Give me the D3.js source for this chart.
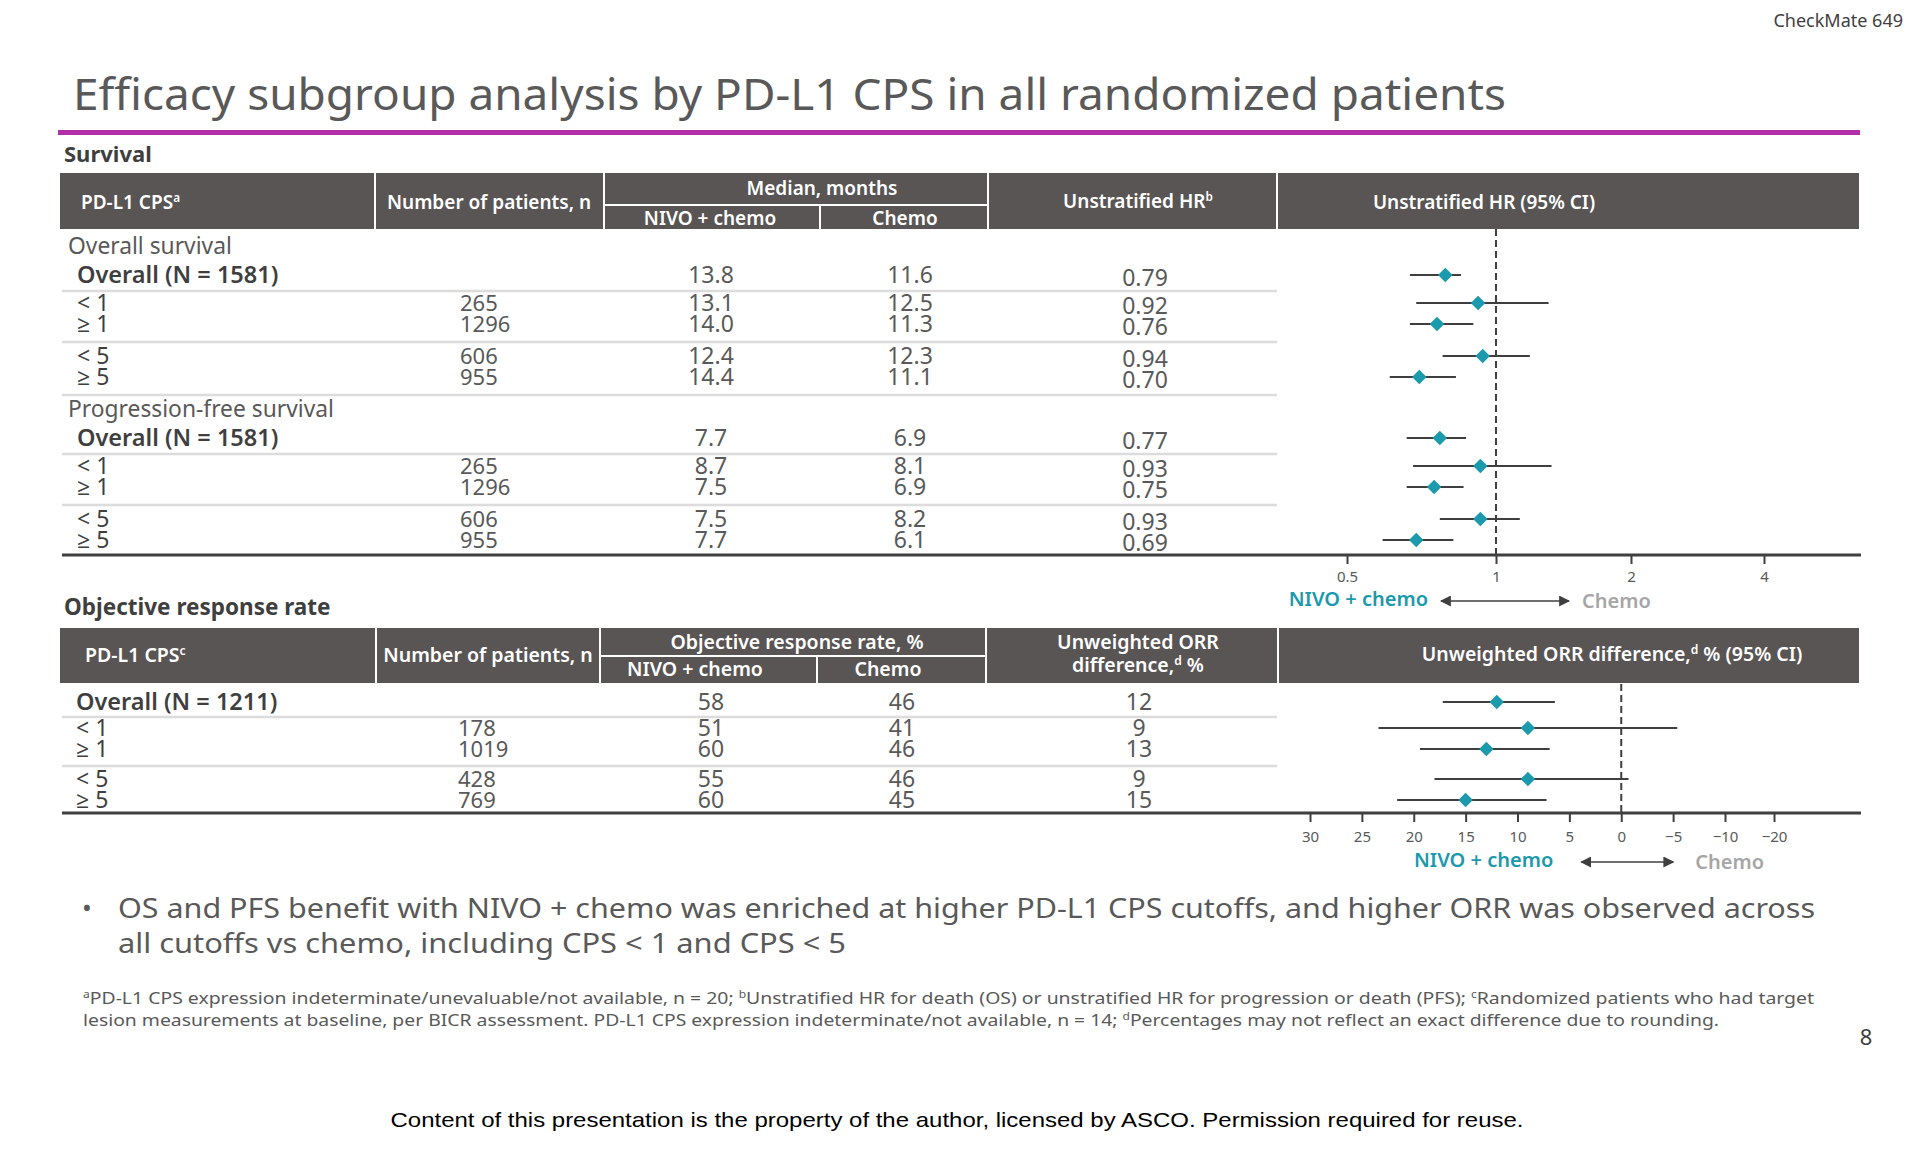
<!DOCTYPE html>
<html><head><meta charset="utf-8">
<script src="https://cdn.jsdelivr.net/npm/d3@7"></script>
<style>
html,body{margin:0;padding:0;background:#fff;}
svg{display:block;font-family:"Noto Sans","Open Sans",sans-serif;}
</style></head><body>
<svg id="c" width="1920" height="1152"></svg>
<script>
// ---------------- DATA ----------------
const subgroupLabels = ["< 1", "≥ 1", "< 5", "≥ 5"];
const osOverallLabel = "Overall (N = 1581)";
const pfsOverallLabel = "Overall (N = 1581)";
const orrOverallLabel = "Overall (N = 1211)";

const survN = ["", "265", "1296", "606", "955"];
const osNivo = ["13.8", "13.1", "14.0", "12.4", "14.4"];
const osChemo = ["11.6", "12.5", "11.3", "12.3", "11.1"];
const osHR = [0.79, 0.92, 0.76, 0.94, 0.70];
const osLower = [0.67, 0.69, 0.67, 0.78, 0.61];
const osUpper = [0.85, 1.31, 0.90, 1.19, 0.83];

const pfsNivo = ["7.7", "8.7", "7.5", "7.5", "7.7"];
const pfsChemo = ["6.9", "8.1", "6.9", "8.2", "6.1"];
const pfsHR = [0.77, 0.93, 0.75, 0.93, 0.69];
const pfsLower = [0.66, 0.68, 0.66, 0.77, 0.59];
const pfsUpper = [0.87, 1.33, 0.86, 1.13, 0.82];

const orrN = ["", "178", "1019", "428", "769"];
const orrNivo = [58, 51, 60, 55, 60];
const orrChemo = [46, 41, 46, 46, 45];
const orrDiff = [12, 9, 13, 9, 15];
const orrLower = [6.4, -5.4, 6.9, -0.7, 7.2];
const orrUpper = [17.2, 23.4, 19.4, 18.0, 21.6];

const hrTicks = [0.5, 1, 2, 4];
const orrTicks = [30, 25, 20, 15, 10, 5, 0, -5, -10, -20];

// ---------------- STYLE ----------------
const HEAD = "#5a5555", TEAL = "#1b99ad", TXT = "#595959", DARK = "#3f3f3f", PURPLE = "#b22fa9";
const svg = d3.select("#c");

function rich(g, x, yc, parts, o) {
  const size = o.size || 18;
  const t = g.append("text").attr("x", x).attr("y", yc + size * 0.36)
    .attr("text-anchor", o.anchor || "start").attr("font-size", size)
    .attr("font-weight", o.weight || 400).attr("fill", o.fill || TXT);
  if (o.family) t.attr("font-family", o.family);
  if (o.len) t.attr("textLength", o.len).attr("lengthAdjust", "spacingAndGlyphs");
  const sh = size * 0.38;
  let pending = 0;
  parts.forEach(p => {
    const s = t.append("tspan");
    if (typeof p === "string") { if (pending) s.attr("dy", pending); pending = 0; s.text(p); }
    else { s.attr("dy", -sh + pending).attr("font-size", size * 0.62).text(p.sup); pending = sh; }
  });
  return t;
}

// ---------------- TOP ----------------
rich(svg, 1903, 21, ["CheckMate 649"], {anchor: "end", size: 18, fill: DARK});
rich(svg, 73, 94, ["Efficacy subgroup analysis by PD-L1 CPS in all randomized patients"], {size: 44, fill: TXT, len: 1433});
svg.append("rect").attr("x", 58).attr("y", 130).attr("width", 1802).attr("height", 5).attr("fill", PURPLE);

rich(svg, 64, 154, ["Survival"], {size: 22, weight: 700, fill: DARK});
rich(svg, 64, 607, ["Objective response rate"], {size: 22.5, weight: 700, fill: DARK});

// ---------------- HEADERS ----------------
function header(top, bot, subY, cols, sub) {
  const g = svg.append("g");
  g.append("rect").attr("x", cols[0]).attr("y", top).attr("width", cols[cols.length - 1] - cols[0]).attr("height", bot - top).attr("fill", HEAD);
  cols.slice(1, -1).forEach(x => g.append("line").attr("x1", x).attr("x2", x).attr("y1", top).attr("y2", bot).attr("stroke", "#fff").attr("stroke-width", 2));
  g.append("line").attr("x1", cols[2]).attr("x2", cols[3]).attr("y1", subY).attr("y2", subY).attr("stroke", "#fff").attr("stroke-width", 2);
  g.append("line").attr("x1", sub).attr("x2", sub).attr("y1", subY).attr("y2", bot).attr("stroke", "#fff").attr("stroke-width", 2);
  return g;
}
const hs = header(173, 229, 205, [60, 375, 604, 988, 1277, 1859], 820);
const ho = {size: 19, weight: 600, fill: "#fff"};
rich(hs, 81, 202, ["PD-L1 CPS", {sup: "a"}], ho);
rich(hs, 489, 202, ["Number of patients, n"], {...ho, anchor: "middle"});
rich(hs, 822, 188, ["Median, months"], {...ho, anchor: "middle"});
rich(hs, 710, 218, ["NIVO + chemo"], {...ho, anchor: "middle"});
rich(hs, 905, 218, ["Chemo"], {...ho, anchor: "middle"});
rich(hs, 1138, 201, ["Unstratified HR", {sup: "b"}], {...ho, anchor: "middle"});
rich(hs, 1484, 202, ["Unstratified HR (95% CI)"], {...ho, anchor: "middle"});

const hr = header(628, 683, 656, [60, 376, 600, 986, 1278, 1859], 817);
const ho2 = {...ho, size: 19.5};
rich(hr, 85, 655, ["PD-L1 CPS", {sup: "c"}], ho2);
rich(hr, 488, 655, ["Number of patients, n"], {...ho2, anchor: "middle"});
rich(hr, 797, 642, ["Objective response rate, %"], {...ho2, anchor: "middle"});
rich(hr, 695, 669, ["NIVO + chemo"], {...ho2, anchor: "middle"});
rich(hr, 888, 669, ["Chemo"], {...ho2, anchor: "middle"});
rich(hr, 1138, 642, ["Unweighted ORR"], {...ho2, anchor: "middle"});
rich(hr, 1138, 665, ["difference,", {sup: "d"}, " %"], {...ho2, anchor: "middle"});
rich(hr, 1612, 654, ["Unweighted ORR difference,", {sup: "d"}, " % (95% CI)"], {...ho2, anchor: "middle"});

// ---------------- ROWS ----------------
const kindOf = l => l.startsWith("<") ? "lt" : l.startsWith("≥") ? "ge" : "overall";
function buildRows(prefix, overall, n, nivo, chemo, est, lo, hi) {
  return [overall, ...subgroupLabels].map((l, i) => ({
    id: prefix + i, label: l, kind: kindOf(l), n: n[i], nivo: nivo[i], chemo: chemo[i], est: est[i], lo: lo[i], hi: hi[i]
  }));
}
const survRows = [
  {id: "osH", label: "Overall survival", kind: "header"},
  ...buildRows("os", osOverallLabel, survN, osNivo, osChemo, osHR, osLower, osUpper),
  {id: "pfsH", label: "Progression-free survival", kind: "header"},
  ...buildRows("pfs", pfsOverallLabel, survN, pfsNivo, pfsChemo, pfsHR, pfsLower, pfsUpper)
];
const orrRows = buildRows("orr", orrOverallLabel, orrN, orrNivo, orrChemo, orrDiff, orrLower, orrUpper);

function positions(rows, start, gaps) {
  let y = start;
  return rows.map((r, i) => { if (i > 0) y += gaps[rows[i - 1].kind]; return y; });
}
const survY = d3.scaleOrdinal().domain(survRows.map(d => d.id))
  .range(positions(survRows, 246, {header: 29, overall: 28, lt: 21, ge: 32}));
const orrY = d3.scaleOrdinal().domain(orrRows.map(d => d.id))
  .range(positions(orrRows, 702, {overall: 26, lt: 21, ge: 30}));

function drawTable(rows, yS, cols, bottomY) {
  const g = svg.append("g");
  rows.forEach((r, i) => {
    if (i < rows.length - 1 && (r.kind === "overall" || r.kind === "ge")) {
      const y = (yS(r.id) + yS(rows[i + 1].id)) / 2 + 2;
      g.append("line").attr("x1", 62).attr("x2", 1277).attr("y1", y).attr("y2", y).attr("stroke", "#dcdcdc").attr("stroke-width", 2.5);
    }
  });
  g.append("line").attr("x1", 62).attr("x2", 1861).attr("y1", bottomY).attr("y2", bottomY).attr("stroke", DARK).attr("stroke-width", 3);
  rows.forEach(r => {
    const y = yS(r.id);
    if (r.kind === "header") { rich(g, 68, y, [r.label], {size: 22.8, fill: TXT}); return; }
    if (r.kind === "overall") rich(g, cols.label, y, [r.label], {size: 23.5, weight: 600, fill: DARK});
    else rich(g, cols.label, y, [r.label], {size: 23, weight: 400, fill: DARK});
    if (r.n) rich(g, cols.n, y, [r.n], {size: 22, fill: TXT});
    rich(g, cols.nivo, y, [String(r.nivo)], {size: 23, anchor: "middle"});
    rich(g, cols.chemo, y, [String(r.chemo)], {size: 23, anchor: "middle"});
    rich(g, cols.est, y + cols.estDy, [cols.fmt(r.est)], {size: 23, anchor: "middle"});
  });
}
drawTable(survRows, survY, {label: 77, n: 460, nivo: 711, chemo: 910, est: 1145, estDy: 3, fmt: d3.format(".2f")}, 555);
drawTable(orrRows, orrY, {label: 76, n: 458, nivo: 711, chemo: 902, est: 1139, estDy: 0, fmt: d3.format("d")}, 813);

// ---------------- FOREST PLOTS ----------------
const hrX = d3.scaleLog().domain([0.5, 1, 2, 4]).range([1347, 1496, 1631, 1764]);
const orrX = d3.scaleLinear().domain([30, -10, -20]).range([1310, 1725, 1774]);
const diamond = d3.symbol().type(d3.symbolSquare).size(105);

svg.append("defs").html(
  '<marker id="ah" viewBox="0 0 10 10" refX="9" refY="5" markerWidth="11" markerHeight="11" markerUnits="userSpaceOnUse" orient="auto-start-reverse"><path d="M0,0L10,5L0,10z" fill="#3f3f3f"/></marker>');

function forest(rows, yS, x, nullV, top, axisY, ticks, fmt, pad) {
  const g = svg.append("g");
  g.append("line").attr("x1", x(nullV)).attr("x2", x(nullV)).attr("y1", top).attr("y2", axisY)
    .attr("stroke", DARK).attr("stroke-width", 2).attr("stroke-dasharray", "7,4");
  const data = rows.filter(r => r.kind !== "header");
  g.selectAll("line.ci").data(data).join("line").attr("class", "ci")
    .attr("x1", d => x(d.lo)).attr("x2", d => x(d.hi)).attr("y1", d => yS(d.id)).attr("y2", d => yS(d.id))
    .attr("stroke", DARK).attr("stroke-width", 2);
  g.selectAll("path.pt").data(data).join("path").attr("class", "pt")
    .attr("d", diamond).attr("fill", TEAL)
    .attr("transform", d => `translate(${x(d.est)},${yS(d.id)}) rotate(45)`);
  const ax = g.append("g").attr("transform", `translate(0,${axisY})`)
    .call(d3.axisBottom(x).tickValues(ticks).tickSize(9).tickPadding(pad).tickFormat(fmt));
  ax.select(".domain").remove();
  ax.selectAll(".tick line").attr("stroke", DARK).attr("stroke-width", 2);
  ax.selectAll(".tick text").attr("fill", TXT).attr("font-size", 15).attr("font-family", '"Noto Sans",sans-serif');
  return {g, c: x(nullV)};
}
const f1 = forest(survRows, survY, hrX, 1, 229, 555, hrTicks, d3.format(""), 7);
const f2 = forest(orrRows, orrY, orrX, 0, 684, 813, orrTicks, d3.format(""), 9);

function legend(g, c, y, half, off, gapL, gapR) {
  g.append("line").attr("x1", c + off - half).attr("x2", c + off + half).attr("y1", y).attr("y2", y)
    .attr("stroke", DARK).attr("stroke-width", 1.5).attr("marker-start", "url(#ah)").attr("marker-end", "url(#ah)");
  rich(g, c + off - half - gapL, y - 2, ["NIVO + chemo"], {size: 20, weight: 600, fill: TEAL, anchor: "end"});
  rich(g, c + off + half + gapR, y, ["Chemo"], {size: 20, weight: 600, fill: "#a6a6a6"});
}
legend(f1.g, f1.c, 601, 64, 9, 13, 13);
legend(f2.g, f2.c, 862, 46, 6, 28, 22);

// ---------------- BOTTOM TEXT ----------------
rich(svg, 82, 908, ["•"], {size: 26, fill: TXT});
rich(svg, 118, 908, ["OS and PFS benefit with NIVO + chemo was enriched at higher PD-L1 CPS cutoffs, and higher ORR was observed across"], {size: 27, fill: TXT, len: 1697});
rich(svg, 118, 943, ["all cutoffs vs chemo, including CPS < 1 and CPS < 5"], {size: 27, fill: TXT, len: 728});
rich(svg, 83, 998, [{sup: "a"}, "PD-L1 CPS expression indeterminate/unevaluable/not available, n = 20; ", {sup: "b"}, "Unstratified HR for death (OS) or unstratified HR for progression or death (PFS); ", {sup: "c"}, "Randomized patients who had target"], {size: 16.5, fill: TXT, len: 1731});
rich(svg, 83, 1020, ["lesion measurements at baseline, per BICR assessment. PD-L1 CPS expression indeterminate/not available, n = 14; ", {sup: "d"}, "Percentages may not reflect an exact difference due to rounding."], {size: 16.5, fill: TXT, len: 1636});
rich(svg, 1866, 1037, ["8"], {size: 22, fill: DARK, anchor: "middle"});
rich(svg, 957, 1119, ["Content of this presentation is the property of the author, licensed by ASCO. Permission required for reuse."], {size: 21, fill: "#000", anchor: "middle", family: '"Liberation Sans",Arial,sans-serif', len: 1133});
</script></body></html>
